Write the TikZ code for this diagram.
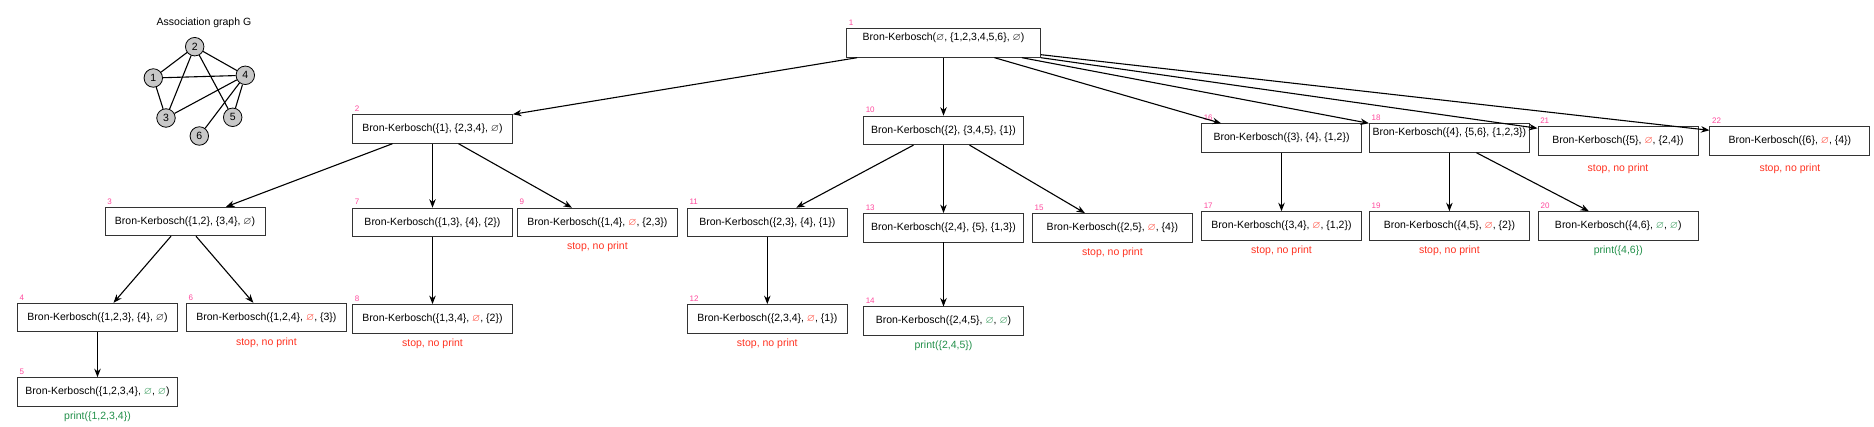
\documentclass[tikz,border=0pt]{standalone}
\usepackage{amssymb}
\usepackage{fontspec}
\setmainfont{Liberation Sans}
\usepackage{tikz}
\usetikzlibrary{positioning, arrows.meta}

\definecolor{numpink}{HTML}{FF4A9E}
\definecolor{stopred}{HTML}{FF3322}
\definecolor{printgreen}{HTML}{22904A}
\definecolor{vtxgray}{HTML}{C8C8C8}

\newcommand{\es}{\ensuremath{\varnothing}}
\newcommand{\esr}{\textcolor{stopred}{\es}}
\newcommand{\esg}{\textcolor{printgreen}{\es}}

\tikzset{
	bk/.style={draw=black!80, line width=0.9pt, fill=white, minimum width=160pt, minimum height=28.5pt, inner sep=2pt, font=\fontsize{10.5}{12}\selectfont},
	hightext/.style={text height=8pt, text depth=12pt},
	numlbl/.style={font=\fontsize{8}{9}\selectfont, text=numpink, inner sep=2.5pt, anchor=south west},
	arrow/.style={-{Stealth[length=8.5pt, width=6.5pt]}, line width=1.1pt}
}

\begin{document}
\begin{tikzpicture}[
		x=1pt, y=-1pt,
		vtx/.style={circle, draw, fill=vtxgray, line width=0.8pt, minimum size=18.5pt, inner sep=0pt, font=\fontsize{10.5}{12}\selectfont},
		gedge/.style={line width=1.1pt},
		stoptxt/.style={inner sep=0pt, text=stopred, font=\fontsize{10.5}{12}\selectfont},
		printtxt/.style={inner sep=0pt, text=printgreen, font=\fontsize{10.5}{12}\selectfont}
		]
		
		\fill[white] (0,0) rectangle (1874,427);
		\useasboundingbox (0,0) rectangle (1874,427);
		
		% association graph
		\node[font=\fontsize{10.5}{12}\selectfont] (gtitle) at (204,22.7) {Association graph G};
		\node[vtx] (g2) at (194.7,46.7) {2};
		\node[vtx] (g1) at (153.3,78) {1};
		\node[vtx] (g4) at (245.3,75.3) {4};
		\node[vtx] (g3) at (166,118) {3};
		\node[vtx] (g5) at (232.7,117.3) {5};
		\node[vtx] (g6) at (199.3,136) {6};
		
		\draw[gedge] (g1) -- (g2);
		\draw[gedge] (g1) -- (g3);
		\draw[gedge] (g1) -- (g4);
		\draw[gedge] (g2) -- (g3);
		\draw[gedge] (g2) -- (g4);
		\draw[gedge] (g2) -- (g5);
		\draw[gedge] (g3) -- (g4);
		\draw[gedge] (g4) -- (g5);
		\draw[gedge] (g4) -- (g6);
		
		% recursion tree
		\node[bk, hightext, minimum width=194pt, label={[numlbl]north west:1}] (b1) at (943.5,43) {Bron-Kerbosch(\es, \{1,2,3,4,5,6\}, \es)};
		
		\node[bk, label={[numlbl]north west:2}] (b2) at (432.5,129) {Bron-Kerbosch(\{1\}, \{2,3,4\}, \es)};
		\node[bk, below=58pt of b1, label={[numlbl]north west:10}] (b10) {Bron-Kerbosch(\{2\}, \{3,4,5\}, \{1\})};
		\node[bk, label={[numlbl]north west:16}] (b16) at (1281.5,138) {Bron-Kerbosch(\{3\}, \{4\}, \{1,2\})};
		\node[bk, hightext, right=7pt of b16, label={[numlbl]north west:18}] (b18) {Bron-Kerbosch(\{4\}, \{5,6\}, \{1,2,3\})};
		\node[bk, label={[numlbl]north west:21}] (b21) at (1618,141) {Bron-Kerbosch(\{5\}, \esr, \{2,4\})};
		\node[bk, right=11pt of b21, label={[numlbl]north west:22}] (b22) {Bron-Kerbosch(\{6\}, \esr, \{4\})};
		
		\node[bk, label={[numlbl]north west:3}] (b3) at (185,221.5) {Bron-Kerbosch(\{1,2\}, \{3,4\}, \es)};
		\node[bk, below=64pt of b2, label={[numlbl]north west:7}] (b7) {Bron-Kerbosch(\{1,3\}, \{4\}, \{2\})};
		\node[bk, right=4pt of b7, label={[numlbl]north west:9}] (b9) {Bron-Kerbosch(\{1,4\}, \esr, \{2,3\})};
		\node[bk, right=9pt of b9, label={[numlbl]north west:11}] (b11) {Bron-Kerbosch(\{2,3\}, \{4\}, \{1\})};
		\node[bk, below=68pt of b10, label={[numlbl]north west:13}] (b13) {Bron-Kerbosch(\{2,4\}, \{5\}, \{1,3\})};
		\node[bk, right=8pt of b13, label={[numlbl]north west:15}] (b15) {Bron-Kerbosch(\{2,5\}, \esr, \{4\})};
		\node[bk, below=58.5pt of b16, label={[numlbl]north west:17}] (b17) {Bron-Kerbosch(\{3,4\}, \esr, \{1,2\})};
		\node[bk, below=58.5pt of b18, label={[numlbl]north west:19}] (b19) {Bron-Kerbosch(\{4,5\}, \esr, \{2\})};
		\node[bk, right=8pt of b19, label={[numlbl]north west:20}] (b20) {Bron-Kerbosch(\{4,6\}, \esg, \esg)};
		
		\node[bk, label={[numlbl]north west:4}] (b4) at (97.5,317.5) {Bron-Kerbosch(\{1,2,3\}, \{4\}, \es)};
		\node[bk, right=8pt of b4, label={[numlbl]north west:6}] (b6) {Bron-Kerbosch(\{1,2,4\}, \esr, \{3\})};
		\node[bk, below=67pt of b7, label={[numlbl]north west:8}] (b8) {Bron-Kerbosch(\{1,3,4\}, \esr, \{2\})};
		\node[bk, below=67pt of b11, label={[numlbl]north west:12}] (b12) {Bron-Kerbosch(\{2,3,4\}, \esr, \{1\})};
		\node[bk, below=64pt of b13, label={[numlbl]north west:14}] (b14) {Bron-Kerbosch(\{2,4,5\}, \esg, \esg)};
		
		\node[bk, below=45pt of b4, label={[numlbl]north west:5}] (b5) {Bron-Kerbosch(\{1,2,3,4\}, \esg, \esg)};
		
		% outcomes
		\node[printtxt, below=5pt of b5] (o5) {print(\{1,2,3,4\})};
		\node[stoptxt, below=5pt of b6] (o6) {stop, no print};
		\node[stoptxt, below=5pt of b8] (o8) {stop, no print};
		\node[stoptxt, below=5pt of b9] (o9) {stop, no print};
		\node[stoptxt, below=5pt of b12] (o12) {stop, no print};
		\node[printtxt, below=5pt of b14] (o14) {print(\{2,4,5\})};
		\node[stoptxt, below=5pt of b15] (o15) {stop, no print};
		\node[stoptxt, below=5pt of b17] (o17) {stop, no print};
		\node[stoptxt, below=5pt of b19] (o19) {stop, no print};
		\node[printtxt, below=5pt of b20] (o20) {print(\{4,6\})};
		\node[stoptxt, below=8pt of b21] (o21) {stop, no print};
		\node[stoptxt, below=8pt of b22] (o22) {stop, no print};
		
		% calls
		\draw[arrow] ([xshift=11pt]b1.south west) -- (b2.north east);
		\draw[arrow] (b1) -- (b10);
		\draw[arrow] ([xshift=51pt]b1.south) -- ([xshift=20pt]b16.north west);
		\draw[arrow] ([xshift=-19pt]b1.south east) -- (b18.north west);
		\draw[arrow] (b1.south east) -- ([yshift=-2pt]b21.north west);
		\draw[arrow] ([yshift=3pt]b1.south east) -- ([yshift=-4pt]b22.north west);
		
		\draw[arrow] ([xshift=-40pt]b2.south) -- ([xshift=41pt]b3.north);
		\draw[arrow] (b2) -- (b7);
		\draw[arrow] ([xshift=26pt]b2.south) -- ([xshift=55pt]b9.north west);
		\draw[arrow] ([xshift=-14pt]b3.south) -- ([xshift=16pt]b4.north);
		\draw[arrow] ([xshift=11pt]b3.south) -- ([xshift=-13pt]b6.north);
		\draw[arrow] (b4) -- (b5);
		\draw[arrow] (b7) -- (b8);
		
		\draw[arrow] ([xshift=-30pt]b10.south) -- ([xshift=29pt]b11.north);
		\draw[arrow] (b10) -- (b13);
		\draw[arrow] ([xshift=26pt]b10.south) -- ([xshift=53pt]b15.north west);
		\draw[arrow] (b11) -- (b12);
		\draw[arrow] (b13) -- (b14);
		
		\draw[arrow] (b16) -- (b17);
		\draw[arrow] (b18) -- (b19);
		\draw[arrow] ([xshift=27pt]b18.south) -- ([xshift=51pt]b20.north west);
		
	\end{tikzpicture}
\end{document}
